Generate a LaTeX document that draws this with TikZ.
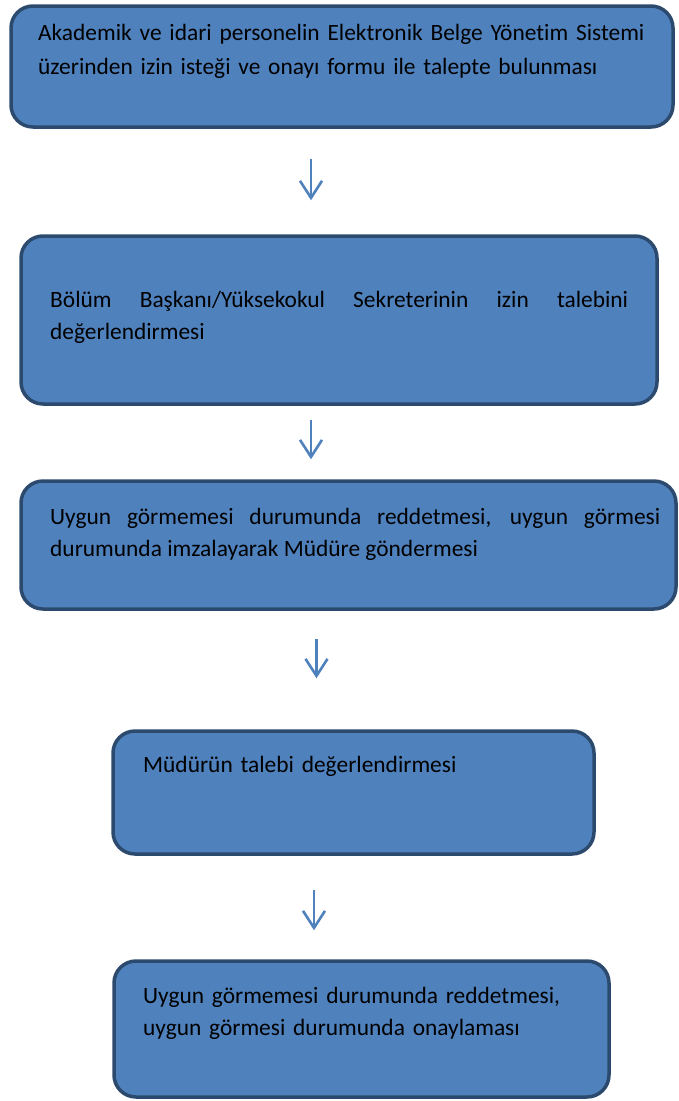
\documentclass[tikz,border=0pt]{standalone}
\usepackage{fontspec}
\setmainfont{Carlito}[Ligatures=NoCommon]
\usetikzlibrary{arrows.meta,positioning}
\definecolor{boxfill}{HTML}{4F81BD}
\definecolor{boxline}{HTML}{2C4A6E}
\tikzset{
  stepbox/.style={draw=boxline, fill=boxfill, line width=3.5pt, rounded corners=22pt, inner sep=0pt},
  steptext/.style={anchor=north west, inner sep=0pt, font=\fontsize{23.4}{32}\selectfont},
  flow/.style={draw=boxfill, line width=2.6pt, -{Straight Barb[length=17pt,width=22pt]}}
}
\begin{document}
\begin{tikzpicture}[x=1pt, y=-1pt]
\useasboundingbox (0,0) rectangle (678,1101);

% kutular
\node[stepbox, minimum width=662, minimum height=121] (istek) at (342,66.5) {};
\node[stepbox, minimum width=636, minimum height=168] (bolum) at (339,320) {};
\node[stepbox, minimum width=655, minimum height=128] (karar) at (348.5,545) {};
\node[stepbox, minimum width=481, minimum height=123] (mudur) at (353.5,792.5) {};
\node[stepbox, minimum width=495, minimum height=136] (onay) at (361.5,1029) {};

% metinler
\node[steptext, font=\fontsize{23.4}{34}\selectfont, text width=620, align=left] (istekT) at (38,16.2) {\strut Akademik ve idari personelin Elektronik Belge Yönetim Sistemi\\ üzerinden izin isteği ve onayı formu ile talepte bulunması};
\node[steptext, text width=578, align=justify] (bolumT) at (50,284.6) {\strut Bölüm Başkanı/Yüksekokul Sekreterinin izin talebini\linebreak değerlendirmesi};
\node[steptext, text width=610, align=justify] (kararT) at (50,502) {\strut Uygun görmemesi durumunda reddetmesi, uygun görmesi\linebreak durumunda imzalayarak Müdüre göndermesi};
\node[steptext, text width=400, align=left] (mudurT) at (143,749.6) {\strut Müdürün talebi değerlendirmesi};
\node[steptext, text width=440, align=left] (onayT) at (143,980.6) {\strut Uygun görmemesi durumunda reddetmesi,\\ uygun görmesi durumunda onaylaması};

% oklar
\draw[flow, shorten <=30, shorten >=34] (istek.south -| 311,0) -- (bolum.north -| 311,0);
\draw[flow, shorten <=14, shorten >=20] (bolum.south -| 311,0) -- (karar.north -| 311,0);
\draw[flow, shorten <=28, shorten >=51] (karar.south -| 316.5,0) -- (mudur.north -| 316.5,0);
\draw[flow, shorten <=34, shorten >=29] (mudur.south -| 314,0) -- (onay.north -| 314,0);
\end{tikzpicture}
\end{document}
